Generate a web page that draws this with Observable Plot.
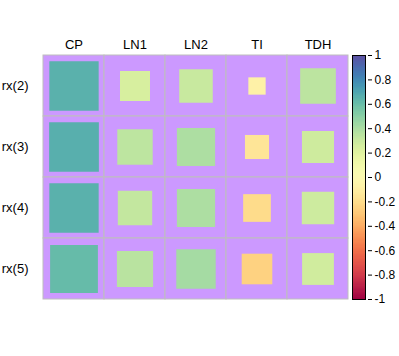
<!DOCTYPE html>
<html><head><meta charset="utf-8">
<script src="https://cdn.jsdelivr.net/npm/d3@7"></script>
<script src="https://cdn.jsdelivr.net/npm/@observablehq/plot@0.6"></script>
<style>
body{margin:0;background:#fff;}
#chart{position:relative;width:399px;height:356px;}
#chart svg{position:absolute;left:0;top:0;}
</style></head><body><div id="chart"></div>
<script>
const columns = ["CP","LN1","LN2","TI","TDH"];
const rows = ["rx(2)","rx(3)","rx(4)","rx(5)"];
const valuesRx2 = [0.65, 0.24, 0.30, -0.08, 0.34];
const valuesRx3 = [0.66, 0.335, 0.39, -0.155, 0.275];
const valuesRx4 = [0.65, 0.316, 0.39, -0.205, 0.28];
const valuesRx5 = [0.61, 0.35, 0.415, -0.25, 0.27];
const legendTicks = [1, 0.8, 0.6, 0.4, 0.2, 0, -0.2, -0.4, -0.6, -0.8, -1];

const rowValues = [valuesRx2, valuesRx3, valuesRx4, valuesRx5];
const data = [];
rows.forEach((r, i) => columns.forEach((c, j) => data.push({row: r, col: c, value: rowValues[i][j]})));

const W = 399, H = 356;
const mL = 42, mR = 51, mT = 55, mB = 57;
const cellW = (W - mL - mR) / columns.length;
const font = "'Liberation Sans', Arial, sans-serif";
const colorScale = {type: "linear", domain: [-1, 1], scheme: "spectral"};

const main = Plot.plot({
  width: W, height: H,
  marginLeft: mL, marginRight: mR, marginTop: mT, marginBottom: mB,
  style: {fontFamily: font, fontSize: "13px", color: "#000", background: "transparent"},
  x: {domain: columns, padding: 0, label: null},
  y: {domain: rows, padding: 0, label: null},
  r: {domain: [0, 1], range: [0, cellW / Math.sqrt(Math.PI)]},
  color: colorScale,
  marks: [
    Plot.cell(data, {x: "col", y: "row", fill: "#CC99FF", stroke: "#BEBEBE", strokeWidth: 1}),
    Plot.dot(data, {x: "col", y: "row", r: d => Math.abs(d.value), symbol: "square", fill: "value"}),
    Plot.axisX({anchor: "top", tickSize: 0, tickPadding: 7, fontSize: 13, label: null}),
    Plot.axisY({anchor: "left", tickSize: 0, tickPadding: 14, fontSize: 13, label: null})
  ]
});

const step = 0.01;
const ramp = d3.range(-1, 1, step);
const bar = Plot.plot({
  width: W, height: H,
  marginLeft: 352, marginRight: 34, marginTop: mT, marginBottom: mB,
  style: {fontFamily: font, fontSize: "12px", color: "#000", background: "transparent"},
  x: {domain: [0, 1], axis: null},
  y: {domain: [-1, 1], axis: null},
  color: colorScale,
  marks: [
    Plot.rect(ramp, {x1: 0, x2: 1, y1: d => d, y2: d => Math.min(1, d + step * 1.5), fill: d => d + step / 2, inset: 0, shapeRendering: "crispEdges"}),
    Plot.frame({stroke: "#000"}),
    Plot.axisY(legendTicks, {anchor: "right", tickSize: 4, tickPadding: 3, dx: 2, fontSize: 12, tickFormat: d => String(d), label: null})
  ]
});

document.getElementById("chart").append(main, bar);
</script></body></html>
